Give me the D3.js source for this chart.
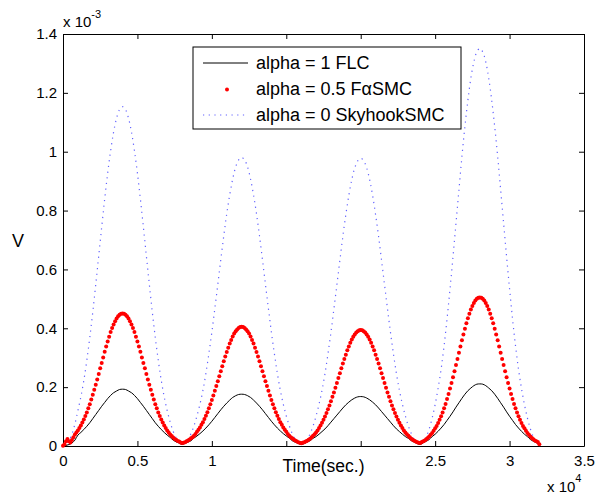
<!DOCTYPE html>
<html>
<head>
<meta charset="utf-8">
<script src="https://cdn.jsdelivr.net/npm/d3@7"></script>
<style>
    body { margin: 0; background: #fff; }
    svg { display: block; font-family: "Liberation Sans", Arial, sans-serif; }
</style>
</head>
<body>
<div id="chart"></div>
<script>
const width = 595
const height = 497

// x ticks in units of 1e4 s, y ticks in units of 1e-3
const xTicks = [0, 0.5, 1, 1.5, 2, 2.5, 3, 3.5]
const yTicks = [0, 0.2, 0.4, 0.6, 0.8, 1, 1.2, 1.4]

const seriesNames = ["alpha = 1 FLC", "alpha = 0.5 F", "alpha = 0 SkyhookSMC"]

// sample step (s) of each series
const stepRed = 100
const stepLine = 200

// alpha = 1 FLC (x 1e-3), every 200 s
const flc = [
    0, .002, .005, .010, .020, .037, .046, .056, .067, .079, .093, .107, .121, .135, .148, .161, .172, .181, .187, .192, .193,
    .192, .187, .181, .172, .161, .148, .135, .121, .107, .093, .079, .067, .056, .046, .037, .029, .020, .014, .010,
    .005,
    .009, .013, .018, .027, .034, .042, .051, .061, .072, .084, .097, .110, .123, .135, .146, .156, .165, .171, .175, .176,
    .175, .171, .165, .156, .146, .135, .123, .110, .097, .084, .072, .061, .051, .042, .034, .027, .018, .013, .009,
    .005,
    .008, .013, .018, .026, .032, .040, .049, .058, .069, .081, .093, .105, .117, .129, .140, .149, .157, .163, .167, .168,
    .167, .163, .157, .149, .140, .129, .117, .105, .093, .081, .069, .058, .049, .040, .032, .026, .018, .013, .008,
    .005,
    .011, .016, .022, .032, .040, .050, .061, .073, .087, .101, .116, .132, .147, .162, .176, .188, .197, .205, .210, .211,
    .210, .205, .197, .188, .176, .162, .147, .132, .116, .101, .087, .073, .061, .050, .040, .032, .022, .016, .011,
    .004
]

// alpha = 0.5 FaSMC (x 1e-3), every 100 s
const fasmc = [
    .001, .006, .016, .024, .016, .012, .020, .030, .039, .046, .053, .061, .070, .080, .090, .102, .114, .128, .142, .158,
    .174, .191, .208, .226, .245, .264, .282, .301, .320, .338, .355, .371, .387, .401, .413, .424, .433, .441, .446, .449, .450,
    .449, .446, .441, .433, .424, .413, .401, .387, .371, .355, .338, .320, .301, .282, .264, .245, .226, .208, .191, .174,
    .158, .142, .128, .114, .102, .090, .080, .070, .061, .053, .046, .039, .034, .029, .024, .021, .017, .015, .012,
    .010,
    .011, .013, .016, .019, .022, .026, .030, .035, .041, .048, .055, .063, .072, .081, .092, .103, .115, .128, .142, .156,
    .172, .188, .204, .220, .237, .254, .271, .288, .304, .319, .334, .348, .360, .372, .382, .390, .396, .401, .404, .405,
    .404, .401, .396, .390, .382, .372, .360, .348, .334, .319, .304, .288, .271, .254, .237, .220, .204, .188, .172, .156,
    .142, .128, .115, .103, .092, .081, .072, .063, .055, .048, .041, .035, .030, .026, .022, .019, .016, .013, .011,
    .009,
    .011, .013, .015, .018, .021, .025, .030, .035, .040, .046, .053, .061, .070, .079, .089, .100, .112, .125, .138, .152,
    .167, .182, .198, .214, .231, .247, .264, .280, .296, .310, .325, .338, .351, .362, .371, .379, .386, .390, .393, .394,
    .393, .390, .386, .379, .371, .362, .351, .338, .325, .310, .296, .280, .264, .247, .231, .214, .198, .182, .167, .152,
    .138, .125, .112, .100, .089, .079, .070, .061, .053, .046, .040, .035, .030, .025, .021, .018, .015, .013, .011,
    .010,
    .014, .016, .019, .023, .027, .032, .038, .044, .052, .060, .068, .078, .089, .101, .114, .128, .143, .160, .177, .195,
    .214, .234, .254, .275, .296, .317, .338, .359, .379, .398, .417, .434, .449, .464, .476, .486, .494, .500, .504, .505,
    .504, .500, .494, .486, .476, .464, .449, .434, .417, .398, .379, .359, .338, .317, .296, .275, .254, .234, .214, .195,
    .177, .160, .143, .128, .114, .101, .089, .078, .068, .060, .052, .044, .038, .032, .027, .023, .019, .016, .014,
    .006
]

// alpha = 0 SkyhookSMC (x 1e-3), every 200 s
const skyhook = [
    0, .006, .018, .040, .075, .120, .167, .223, .291, .369, .455, .549, .646, .744, .839, .927, 1.003, 1.067, 1.114, 1.143, 1.153,
    1.143, 1.114, 1.067, 1.003, .927, .839, .744, .646, .549, .455, .369, .291, .223, .167, .120, .081, .050, .027, .013,
    .007,
    .011, .023, .042, .069, .102, .142, .189, .247, .314, .387, .467, .549, .633, .714, .789, .853, .907, .948, .972, .981,
    .972, .948, .907, .853, .789, .714, .633, .549, .467, .387, .314, .247, .189, .142, .102, .069, .042, .023, .011,
    .006,
    .011, .022, .042, .068, .102, .142, .189, .246, .313, .386, .466, .548, .631, .712, .786, .851, .905, .945, .969, .978,
    .969, .945, .905, .851, .786, .712, .631, .548, .466, .386, .313, .246, .189, .142, .102, .068, .042, .022, .011,
    .007,
    .015, .031, .058, .095, .141, .196, .261, .340, .432, .534, .643, .757, .871, .984, 1.086, 1.175, 1.250, 1.305, 1.339, 1.351,
    1.339, 1.305, 1.250, 1.175, 1.086, .984, .871, .757, .643, .534, .432, .340, .261, .196, .141, .095, .058, .031, .015,
    .006
]

const margin = { left: 63, right: 11, top: 34, bottom: 51 }

const svg = d3.select("#chart")
    .append("svg")
    .attr("width", width)
    .attr("height", height)

const x = d3.scaleLinear()
    .domain([0, 35000])
    .range([margin.left, width - margin.right])

const y = d3.scaleLinear()
    .domain([0, 1.4])
    .range([height - margin.bottom, margin.top])

const fmt = d3.format("")

// axes, MATLAB style: inward ticks on all four sides
const axisFont = g => g
    .attr("font-family", "Liberation Sans, Arial, sans-serif")
    .attr("font-size", 15)
    .call(g => g.selectAll("text").attr("fill", "#000"))
    .call(g => g.selectAll("line, path").attr("stroke", "#000"))

svg.append("g")
    .attr("transform", `translate(0, ${y(0)})`)
    .call(d3.axisBottom(x).tickValues(xTicks.map(d => d * 1e4)).tickFormat(d => fmt(d / 1e4))
        .tickSizeInner(-5).tickSizeOuter(0).tickPadding(9))
    .call(axisFont)
    .call(g => g.selectAll(".tick text").filter(d => d === 15000 || d === 20000).remove())

svg.append("g")
    .attr("transform", `translate(0, ${y(1.4)})`)
    .call(d3.axisTop(x).tickValues(xTicks.map(d => d * 1e4)).tickFormat("")
        .tickSizeInner(-5).tickSizeOuter(0))
    .call(axisFont)

svg.append("g")
    .attr("transform", `translate(${x(0)}, 0)`)
    .call(d3.axisLeft(y).tickValues(yTicks).tickFormat(fmt)
        .tickSizeInner(-5).tickSizeOuter(0).tickPadding(6))
    .call(axisFont)

svg.append("g")
    .attr("transform", `translate(${x(35000)}, 0)`)
    .call(d3.axisRight(y).tickValues(yTicks).tickFormat("")
        .tickSizeInner(-5).tickSizeOuter(0))
    .call(axisFont)

// series
const line = d3.line()
    .x((d, i) => x(i * stepLine))
    .y(d => y(d))
    .curve(d3.curveCatmullRom)

svg.append("path")
    .datum(skyhook)
    .attr("fill", "none")
    .attr("stroke", "#3a3aff")
    .attr("stroke-opacity", 0.8)
    .attr("stroke-width", 1.2)
    .attr("stroke-dasharray", "1.2,4.5")
    .attr("d", line)

svg.append("path")
    .datum(flc)
    .attr("fill", "none")
    .attr("stroke", "#000")
    .attr("stroke-width", 1)
    .attr("d", line)

svg.append("g")
    .selectAll("circle")
    .data(fasmc)
    .join("circle")
    .attr("cx", (d, i) => x(i * stepRed))
    .attr("cy", d => y(d))
    .attr("r", 2)
    .attr("fill", "#ff0000")

// exponent labels
const expo = svg.append("text")
    .attr("x", 63)
    .attr("y", 27)
    .attr("font-size", 15)
expo.append("tspan").text("x 10")
expo.append("tspan").attr("font-size", 11).attr("dy", -9).text("-3")

const expoX = svg.append("text")
    .attr("x", 547)
    .attr("y", 492)
    .attr("font-size", 15)
expoX.append("tspan").text("x 10")
expoX.append("tspan").attr("font-size", 11).attr("dy", -10).text("4")

// axis titles
svg.append("text")
    .attr("x", (x(0) + x(35000)) / 2)
    .attr("y", 472)
    .attr("text-anchor", "middle")
    .attr("font-size", 17.5)
    .text("Time(sec.)")

svg.append("text")
    .attr("x", 18)
    .attr("y", 247)
    .attr("text-anchor", "middle")
    .attr("font-size", 18)
    .text("V")

// legend
const legend = svg.append("g").attr("transform", "translate(193, 47)")

legend.append("rect")
    .attr("width", 268)
    .attr("height", 82)
    .attr("fill", "#fff")
    .attr("stroke", "#000")
    .attr("stroke-width", 1)

const rowY = [16, 42.5, 68]

legend.append("line")
    .attr("x1", 10).attr("x2", 55)
    .attr("y1", rowY[0]).attr("y2", rowY[0])
    .attr("stroke", "#000")

legend.append("circle")
    .attr("cx", 34).attr("cy", rowY[1])
    .attr("r", 2)
    .attr("fill", "#ff0000")

legend.append("line")
    .attr("x1", 10).attr("x2", 55)
    .attr("y1", rowY[2]).attr("y2", rowY[2])
    .attr("stroke", "#3a3aff")
    .attr("stroke-opacity", 0.8)
    .attr("stroke-width", 1.2)
    .attr("stroke-dasharray", "1.2,4.5")

seriesNames.forEach((name, i) => {
    const t = legend.append("text")
        .attr("x", 63)
        .attr("y", rowY[i] + 5.5)
        .attr("font-size", 18)
    t.append("tspan").text(name)
    if (i === 1) {
        t.append("tspan").text("α")
        t.append("tspan").text("SMC")
    }
})
</script>
</body>
</html>
